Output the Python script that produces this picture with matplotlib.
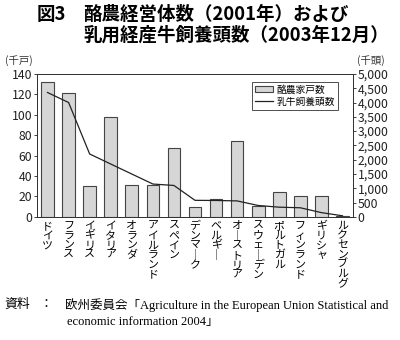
import matplotlib
matplotlib.use("Agg")
import matplotlib.pyplot as plt
from matplotlib.ticker import FuncFormatter, MultipleLocator

plt.rcParams['font.family'] = ['Noto Sans CJK JP', 'DejaVu Sans']

# 酪農経営体数 (2001年, 千戸) と 乳用経産牛飼養頭数 (2003年12月, 千頭)
countries = ["ドイツ", "フランス", "イギリス", "イタリア", "オランダ", "アイルランド",
             "スペイン", "デンマーク", "ベルギー", "オーストリア", "スウェーデン",
             "ポルトガル", "フィンランド", "ギリシャ", "ルクセンブルグ"]
farms = [132.5, 121, 30, 97.5, 31, 31, 67, 10, 18, 74, 11, 24, 20.5, 20, 1]
cows = [4350, 4000, 2200, 1850, 1500, 1150, 1100, 580, 575, 560, 400, 340, 320, 150, 40]


def vertical(s):
    # 縦書き: 長音記号は縦棒に置き換える
    return "\n".join("｜" if c == "ー" else c for c in s)


fig = plt.figure(figsize=(4, 3.4), dpi=100)
ax = fig.add_axes([0.0925, 0.362, 0.79, 0.4206])
ax2 = ax.twinx()

x = list(range(len(countries)))
bars = ax.bar(x, farms, width=0.6, color="#d6d6d6", edgecolor="#444444", linewidth=0.8,
              label="酪農家戸数")
line, = ax2.plot(x, cows, color="#222222", linewidth=0.9, label="乳牛飼養頭数")

ax.set_xlim(-0.5, len(countries) - 0.5)
ax.set_ylim(0, 140)
ax2.set_ylim(0, 5000)
ax.yaxis.set_major_locator(MultipleLocator(20))
ax2.yaxis.set_major_locator(MultipleLocator(500))
ax2.yaxis.set_major_formatter(FuncFormatter(lambda v, p: f"{int(v):,}"))

ax.set_xticks(x)
ax.set_xticklabels([vertical(c) for c in countries], fontsize=7.9, linespacing=0.95,
                   va="top")
ax.tick_params(axis="x", length=0, pad=3)
ax.tick_params(axis="y", length=2.5, width=0.6, labelsize=8.8, pad=1, colors="#222222")
ax2.tick_params(axis="y", length=2.5, width=0.6, labelsize=8.8, pad=1, colors="#222222")
for a in (ax, ax2):
    for s in a.spines.values():
        s.set_linewidth(0.7)
        s.set_color("#333333")

fig.text(5 / 400, 1 - 61 / 340, "(千戸)", ha="left", va="center",
         fontsize=7.5, color="#333333")
fig.text(357 / 400, 1 - 61 / 340, "(千頭)", ha="left", va="center",
         fontsize=7.5, color="#333333")

leg = ax2.legend([bars, line], ["酪農家戸数", "乳牛飼養頭数"], loc="upper right",
                 bbox_to_anchor=(0.952, 0.945), fontsize=7, frameon=True, fancybox=False,
                 handlelength=1.8, handleheight=0.6, borderpad=0.3, labelspacing=0.2,
                 handletextpad=0.4, borderaxespad=0)
leg.get_frame().set_edgecolor("#222222")
leg.get_frame().set_linewidth(0.7)

# タイトル
fig.text(37 / 400, 1 - 14 / 340, "図3", fontsize=13.3, fontweight="bold",
         va="center", ha="left")
fig.text(83 / 400, 1 - 14 / 340, "酪農経営体数（2001年）および", fontsize=13.3,
         fontweight="bold", va="center", ha="left")
fig.text(83 / 400, 1 - 35 / 340, "乳用経産牛飼養頭数（2003年12月）", fontsize=13.3,
         fontweight="bold", va="center", ha="left")

# 資料
src_font = ["Liberation Serif", "Noto Sans CJK JP"]
fig.text(4 / 400, 1 - 305 / 340, "資料", fontsize=9.3, family=src_font,
         va="center", ha="left")
fig.text(46 / 400, 1 - 305 / 340, "：", fontsize=9.3, family=src_font,
         va="center", ha="center")
fig.text(65 / 400, 1 - 305 / 340,
         "欧州委員会「Agriculture in the European Union Statistical and",
         fontsize=9.0, family=src_font, va="center", ha="left")
fig.text(67 / 400, 1 - 322 / 340, "economic information 2004」",
         fontsize=9.0, family=src_font, va="center", ha="left")

fig.savefig("out.png", dpi=100, facecolor="white")
